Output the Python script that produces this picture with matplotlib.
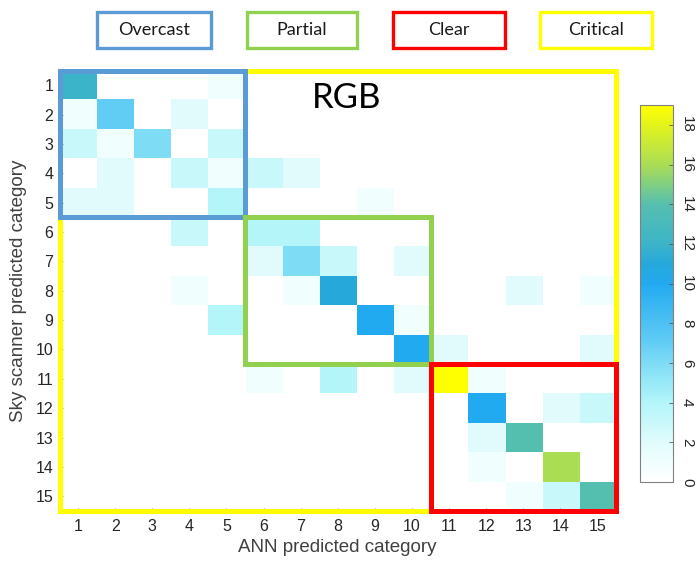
import numpy as np
import matplotlib.pyplot as plt
from matplotlib.colors import LinearSegmentedColormap
from matplotlib.patches import Rectangle

# confusion counts: rows = sky scanner category, cols = ANN category
categories = list(range(1, 16))
counts = [
    [12, 0, 0, 0, 1, 0, 0, 0, 0, 0, 0, 0, 0, 0, 0],
    [1, 7, 0, 2, 0, 0, 0, 0, 0, 0, 0, 0, 0, 0, 0],
    [3, 1, 6, 0, 3, 0, 0, 0, 0, 0, 0, 0, 0, 0, 0],
    [0, 2, 0, 3, 1, 3, 2, 0, 0, 0, 0, 0, 0, 0, 0],
    [2, 2, 0, 0, 4, 0, 0, 0, 1, 0, 0, 0, 0, 0, 0],
    [0, 0, 0, 3, 0, 4, 4, 0, 0, 0, 0, 0, 0, 0, 0],
    [0, 0, 0, 0, 0, 2, 6, 3, 0, 2, 0, 0, 0, 0, 0],
    [0, 0, 0, 1, 0, 0, 1, 11, 0, 0, 0, 0, 2, 0, 1],
    [0, 0, 0, 0, 4, 0, 0, 0, 10, 1, 0, 0, 0, 0, 0],
    [0, 0, 0, 0, 0, 0, 0, 0, 0, 10, 2, 0, 0, 0, 2],
    [0, 0, 0, 0, 0, 1, 0, 4, 0, 2, 19, 1, 0, 0, 0],
    [0, 0, 0, 0, 0, 0, 0, 0, 0, 0, 0, 10, 0, 2, 3],
    [0, 0, 0, 0, 0, 0, 0, 0, 0, 0, 0, 2, 14, 0, 0],
    [0, 0, 0, 0, 0, 0, 0, 0, 0, 0, 0, 1, 0, 16, 0],
    [0, 0, 0, 0, 0, 0, 0, 0, 0, 0, 0, 0, 1, 3, 14],
]
cbar_ticks = list(range(0, 19, 2))

# class groups: (name, first category, last category, edge colour)
group_names = ["Overcast", "Partial", "Clear", "Critical"]
group_colors = ["#5b9bd5", "#92d050", "#ff0000", "#ffff00"]
group_ranges = [(1, 5), (6, 10), (11, 15), (1, 15)]

vmax = 19
stops = [(0, "#ffffff"), (1, "#f0fefe"), (2, "#e0fbfc"), (3, "#c8f8fa"),
         (4, "#b3f5fa"), (6, "#7ddcf5"), (7, "#62cdf5"), (10, "#22aaf0"),
         (11, "#26a8dc"), (12, "#3cb4c8"), (14, "#55bfb0"), (16, "#aadd55"),
         (19, "#ffff00")]
cmap = LinearSegmentedColormap.from_list("sky", [(v / vmax, c) for v, c in stops])

W, H = 696, 563
fig = plt.figure(figsize=(W / 100, H / 100), dpi=100)


def px(x0, y0, x1, y1):
    # pixel box (top-left origin) -> figure fraction [left, bottom, width, height]
    return [x0 / W, 1 - y1 / H, (x1 - x0) / W, (y1 - y0) / H]


ax = fig.add_axes(px(59.5, 70.5, 616, 511))
data = np.array(counts)
im = ax.imshow(data, cmap=cmap, vmin=0, vmax=vmax, interpolation="nearest",
               extent=(0.5, 15.5, 15.5, 0.5), aspect="auto")
ax.set_xticks(categories)
ax.set_yticks(categories)
ax.tick_params(direction="in", length=2, width=0.6, color="#777777",
               labelsize=11.5, labelcolor="#262626")
ax.tick_params(axis="x", pad=6)
ax.tick_params(axis="y", pad=4.5)
for s in ax.spines.values():
    s.set_visible(False)
ax.set_xlabel("ANN predicted category", fontsize=13.5, color="#404040",
              family="Liberation Sans", labelpad=3)
ax.set_ylabel("Sky scanner predicted category", fontsize=13.5, color="#404040",
              family="Liberation Sans", labelpad=6)
for lab in ax.get_xticklabels() + ax.get_yticklabels():
    lab.set_family("Liberation Sans")

# group outlines, critical (largest) first so the others sit on top
order = [3, 0, 1, 2]
for i in order:
    a, b = group_ranges[i]
    ax.add_patch(Rectangle((a - 0.5, a - 0.5), b - a + 1, b - a + 1, fill=False,
                           edgecolor=group_colors[i], lw=3.6, clip_on=False,
                           zorder=5))

ax.text(8.25, 1.45, "RGB", fontsize=25, family="Lato", ha="center", va="center",
        color="black", zorder=6)

# colour bar
cax = fig.add_axes(px(640, 105, 673, 482))
cb = fig.colorbar(im, cax=cax, ticks=cbar_ticks)
cb.outline.set_edgecolor("#808080")
cb.outline.set_linewidth(0.8)
cax.tick_params(direction="in", length=3, width=0.6, color="#555555",
                labelsize=11, labelcolor="#262626", pad=5)
for lab in cax.get_yticklabels():
    lab.set_rotation(-90)
    lab.set_va("center")
    lab.set_family("Liberation Sans")

# legend boxes along the top
legend_px = [(97, 211), (247, 357), (393, 505), (540, 652)]
for name, col, (x0, x1) in zip(group_names, group_colors, legend_px):
    fig.patches.append(Rectangle((x0 / W, 1 - 48 / H), (x1 - x0) / W, 36 / H,
                                 transform=fig.transFigure, fill=False,
                                 edgecolor=col, lw=2.4))
    fig.text((x0 + x1) / 2 / W, 1 - 30 / H, name, ha="center", va="center",
             fontsize=13, family="Lato", color="#1a1a1a")

fig.savefig("out.png", dpi=100)
